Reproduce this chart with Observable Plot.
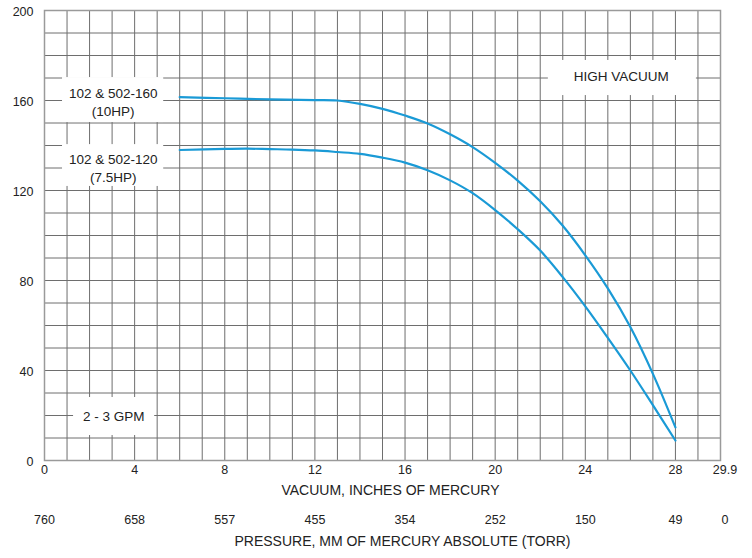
<!DOCTYPE html>
<html>
<head>
<meta charset="utf-8">
<script src="https://cdn.jsdelivr.net/npm/d3@7"></script>
<script src="https://cdn.jsdelivr.net/npm/@observablehq/plot@0.6"></script>
<style>
  html, body { margin: 0; padding: 0; background: #fff; }
  #chart svg { display: block; }
</style>
</head>
<body>
<div id="chart"></div>
<script>
// Curve 102 & 502-160 (10HP)
const vacuum10 = [6, 8, 10, 12, 13, 14, 15, 16, 17, 18, 19, 20, 21, 22, 23, 24, 25, 26, 27, 28];
const flow10   = [161.5, 161, 160.5, 160.2, 160, 158.5, 156.3, 153.3, 149.8, 145, 139.3, 132.3, 124.4, 115.2, 104.3, 91.2, 76.5, 59.3, 38.5, 14.7];

// Curve 102 & 502-120 (7.5HP)
const vacuum75 = [6, 8, 9, 10, 11, 12, 13, 14, 15, 16, 17, 18, 19, 20, 21, 22, 23, 24, 25, 26, 27, 28];
const flow75   = [138, 138.5, 138.6, 138.4, 138.2, 137.8, 137.1, 136.3, 134.6, 132.4, 129, 124.5, 118.8, 111.3, 102.8, 93.3, 81.5, 68.5, 54.5, 40, 24.6, 8.9];

// Tick labels
const xTickPos      = [0, 4, 8, 12, 16, 20, 24, 28, 30.2];
const vacuumLabels  = ["0", "4", "8", "12", "16", "20", "24", "28", "29.9"];
const pressureLabels = ["760", "658", "557", "455", "354", "252", "150", "49", "0"];
const yTicks = [0, 40, 80, 120, 160, 200];

// Annotation labels (text, anchor, white box extents in data units)
const annoText = ["102 & 502-160\n(10HP)", "102 & 502-120\n(7.5HP)", "2 - 3 GPM", "HIGH VACUUM"];
const annoX    = [3.05, 3.05, 3.07, 25.6];
const annoY    = [159.6, 130.2, 20, 171.1];
const boxX1    = [0.8, 0.8, 1.29, 22.36];
const boxX2    = [5.29, 5.29, 4.89, 28.93];
const boxY1    = [150.2, 121.8, 11.1, 162.2];
const boxY2    = [170.2, 140.4, 28, 177.8];

const series10 = vacuum10.map((v, i) => ({x: v, y: flow10[i]}));
const series75 = vacuum75.map((v, i) => ({x: v, y: flow75[i]}));
const ticks = xTickPos.map((p, i) => ({x: p, vac: vacuumLabels[i], pres: pressureLabels[i]}));
const annos = annoText.map((t, i) => ({t, x: annoX[i], y: annoY[i], x1: boxX1[i], x2: boxX2[i], y1: boxY1[i], y2: boxY2[i]}));

const blue = "#1a9ad6";
const gridColor = "#6e6e6e";
const textColor = "#222";
const font = "Liberation Sans, Arial, Helvetica, sans-serif";

const chart = Plot.plot({
  width: 752,
  height: 558,
  marginLeft: 44,
  marginRight: 32,
  marginTop: 10,
  marginBottom: 98,
  style: {fontFamily: font, color: textColor, background: "#fff"},
  x: {domain: [0, 30], axis: null},
  y: {domain: [0, 200], axis: null},
  marks: [
    Plot.ruleX(d3.range(0, 31), {stroke: gridColor, strokeWidth: 1}),
    Plot.ruleY(d3.range(0, 201, 10), {stroke: gridColor, strokeWidth: 1}),
    Plot.frame({stroke: "#9a9a9a", strokeWidth: 1.5}),
    Plot.rect(annos, {x1: "x1", x2: "x2", y1: "y1", y2: "y2", fill: "#fff"}),
    Plot.text(annos, {x: "x", y: "y", text: "t", fontSize: 13.5, lineHeight: 1.35, fill: textColor}),
    Plot.line(series10, {x: "x", y: "y", stroke: blue, strokeWidth: 2.2, curve: "catmull-rom"}),
    Plot.line(series75, {x: "x", y: "y", stroke: blue, strokeWidth: 2.2, curve: "catmull-rom"}),
    // y tick labels
    Plot.text(yTicks, {x: 0, y: d => d, text: d => String(d), textAnchor: "end", dx: -11, dy: 1, fontSize: 12.5, fill: textColor}),
    // vacuum tick labels
    Plot.text(ticks, {x: "x", text: "vac", frameAnchor: "bottom", dy: 13, fontSize: 12.5, fill: textColor}),
    Plot.text(["VACUUM, INCHES OF MERCURY"], {text: d => d, frameAnchor: "bottom", dx: 8, dy: 34, fontSize: 14, fill: textColor}),
    // pressure tick labels
    Plot.text(ticks, {x: "x", text: "pres", frameAnchor: "bottom", dy: 63, fontSize: 12.5, fill: textColor}),
    Plot.text(["PRESSURE, MM OF MERCURY ABSOLUTE (TORR)"], {text: d => d, frameAnchor: "bottom", dx: 20, dy: 85, fontSize: 14, fill: textColor})
  ]
});
document.getElementById("chart").appendChild(chart);
</script>
</body>
</html>
